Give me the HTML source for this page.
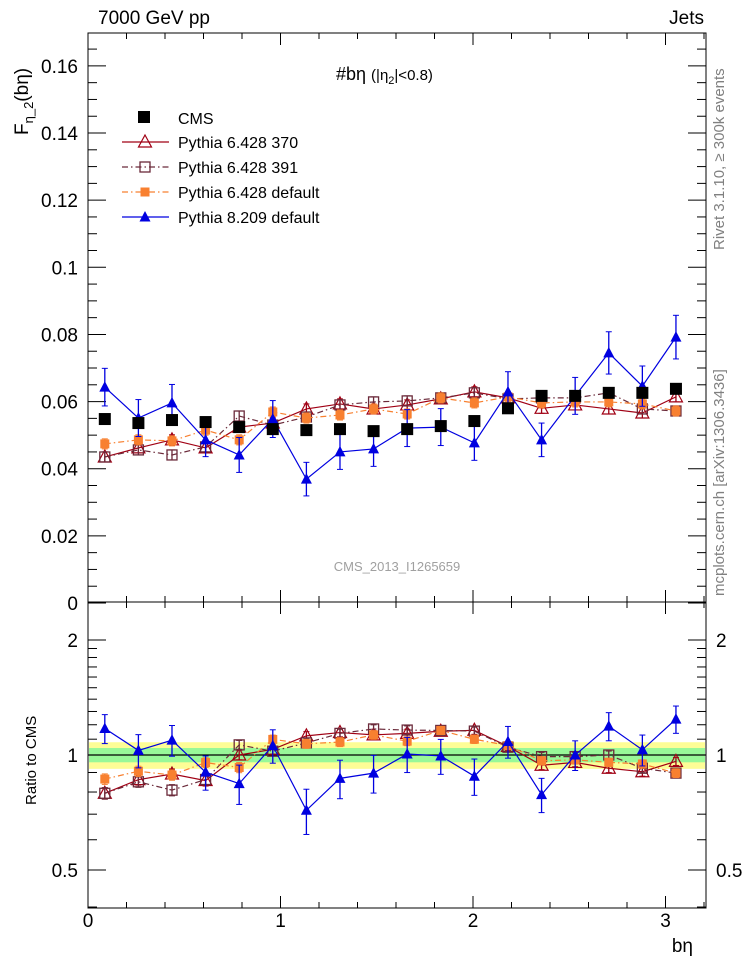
<!DOCTYPE html>
<html><head><meta charset="utf-8"><style>
html,body{margin:0;padding:0;background:#fff}
svg{display:block;font-family:"Liberation Sans",sans-serif}
</style></head><body>
<svg id="c" width="746" height="972" viewBox="0 0 746 972" xmlns="http://www.w3.org/2000/svg"></svg>
<script>
const xCenters=[0.0873,0.2618,0.4363,0.6109,0.7854,0.9599,1.1345,1.309,1.4835,1.6581,1.8326,2.0071,2.1817,2.3562,2.5307,2.7053,2.8798,3.0543];
const cmsVals=[0.0548,0.0536,0.0545,0.0539,0.0524,0.0518,0.0515,0.0518,0.0512,0.0518,0.0527,0.0542,0.058,0.0617,0.0617,0.0626,0.0626,0.0638];
const p370Vals=[0.0435,0.0462,0.0486,0.0462,0.0524,0.0536,0.0578,0.0593,0.0578,0.059,0.0608,0.0629,0.0611,0.058,0.059,0.0578,0.0566,0.0614];
const p391Vals=[0.0435,0.0456,0.0441,0.0465,0.0557,0.053,0.0554,0.059,0.0599,0.0602,0.0611,0.0626,0.0608,0.0611,0.0611,0.0626,0.0578,0.0572];
const pdefVals=[0.0474,0.0486,0.0483,0.0515,0.0486,0.0569,0.0551,0.056,0.0578,0.0563,0.0611,0.0596,0.0614,0.0596,0.0599,0.0599,0.0593,0.0572];
const p8Vals=[0.0643,0.0551,0.0596,0.0486,0.0441,0.0548,0.0369,0.045,0.0459,0.0521,0.0524,0.0477,0.0629,0.0486,0.0617,0.0745,0.0646,0.0792];
const p8Err=[0.0056,0.0055,0.0055,0.005,0.0052,0.0055,0.005,0.0052,0.0052,0.0055,0.0055,0.0052,0.006,0.005,0.0055,0.0063,0.006,0.0065];
const p6Err=[0.0015,0.0015,0.0015,0.0015,0.0015,0.0015,0.0015,0.0015,0.0015,0.0015,0.0015,0.0015,0.0015,0.0015,0.0015,0.0015,0.0015,0.0015];
const mainTicks=[0,0.02,0.04,0.06,0.08,0.1,0.12,0.14,0.16];
const mainTickLabels=["0","0.02","0.04","0.06","0.08","0.1","0.12","0.14","0.16"];
const ratioTicks=[0.5,1,2];
const ratioTickLabels=["0.5","1","2"];
const xTicks=[0,1,2,3];
const xTickLabels=["0","1","2","3"];
const bandGreen=0.043, bandYellow=0.08;

const NS="http://www.w3.org/2000/svg";
const svg=document.getElementById('c');
const L=88,R=706,T=33,MID=602,B=908;
const XMAX=(R-L)/192.5;
function X(v){return L+v/XMAX*(R-L);}
function Y(v){return 603-v*3357;}
function RY(r){return 755-115*Math.log2(r);}
function el(tag,attrs,parent){const e=document.createElementNS(NS,tag);for(const k in attrs)e.setAttribute(k,attrs[k]);(parent||svg).appendChild(e);return e;}
function txt(s,attrs,parent){const e=el('text',attrs,parent);e.textContent=s;return e;}

const clipR=el('clipPath',{id:'cr'});el('rect',{x:L,y:MID,width:R-L,height:B-MID},clipR);
const clipM=el('clipPath',{id:'cm'});el('rect',{x:L,y:T,width:R-L,height:MID-T},clipM);
let b=el('rect',{x:L+1,y:RY(1+bandYellow),width:R-L-2,height:RY(1-bandYellow)-RY(1+bandYellow),fill:'#fdfd96'});

b=el('rect',{x:L+1,y:RY(1+bandGreen),width:R-L-2,height:RY(1-bandGreen)-RY(1+bandGreen),fill:'#98f898'});

el('line',{x1:L,x2:R,y1:RY(1),y2:RY(1),stroke:'#000','stroke-width':1.2});

let f=el('rect',{x:L,y:T,width:R-L,height:MID-T,fill:'none',stroke:'#000','stroke-width':1});

f=el('rect',{x:L,y:MID,width:R-L,height:B-MID,fill:'none',stroke:'#000','stroke-width':1});


for(let v=0;v<=XMAX+1e-6;v+=0.2){
  const major=Math.abs(v-Math.round(v))<1e-6;const len=major?12:6;const x=X(v);
  [[T,1],[MID,-1],[MID,1],[B,-1]].forEach(([y,d])=>el('line',{x1:x,x2:x,y1:y,y2:y+d*len,stroke:'#000'}));
}
xTicks.forEach((v,i)=>{const t=txt(xTickLabels[i],{x:X(v),y:927,'font-size':19,'text-anchor':'middle'});
});
for(let v=0;v<=0.1701;v+=0.005){
  const major=Math.abs(v/0.02-Math.round(v/0.02))<1e-6;const len=major?18:9;const y=Y(v);
  if(y<T)continue;
  el('line',{x1:L,x2:L+len,y1:y,y2:y,stroke:'#000'});el('line',{x1:R,x2:R-len,y1:y,y2:y,stroke:'#000'});
}
mainTicks.forEach((v,i)=>{const t=txt(mainTickLabels[i],{x:78,y:Y(v)+7,'font-size':19,'text-anchor':'end'});
});
[0.4,0.5,0.6,0.7,0.8,0.9,1,1.1,1.2,1.3,1.4,1.5,1.6,1.7,1.8,1.9,2,2.5].forEach(v=>{
  const y=RY(v);if(y<MID||y>B)return;const major=(v===0.5||v===1||v===2);const len=major?18:9;
  el('line',{x1:L,x2:L+len,y1:y,y2:y,stroke:'#000'});el('line',{x1:R,x2:R-len,y1:y,y2:y,stroke:'#000'});
});
ratioTicks.forEach((v,i)=>{
  let t=txt(ratioTickLabels[i],{x:78,y:RY(v)+7,'font-size':19,'text-anchor':'end'});
  
  t=txt(ratioTickLabels[i],{x:716,y:RY(v)+7,'font-size':19,'text-anchor':'start'});
  
});

function marker(type,x,y,color,g){
  if(type==='sqf')return el('rect',{x:x-6,y:y-6,width:12,height:12,fill:color},g);
  if(type==='sqo')return el('rect',{x:x-5,y:y-5,width:10,height:10,fill:'#fff','fill-opacity':0,stroke:color,'stroke-width':1.3},g);
  if(type==='sqs')return el('rect',{x:x-4.5,y:y-4.5,width:9,height:9,fill:color},g);
  if(type==='trio')return el('path',{d:`M${x},${y-7}L${x+6.5},${y+5}L${x-6.5},${y+5}Z`,fill:'none',stroke:color,'stroke-width':1.2},g);
  if(type==='trif')return el('path',{d:`M${x},${y-6}L${x+5.5},${y+4.5}L${x-5.5},${y+4.5}Z`,fill:color},g);
}
const series=[
  {name:'pythia-6428-370',vals:p370Vals,err:p6Err,color:'#a00014',dash:'',m:'trio',label:'Pythia 6.428 370'},
  {name:'pythia-6428-391',vals:p391Vals,err:p6Err,color:'#6b2a3a',dash:'6,3,1.5,3',m:'sqo',label:'Pythia 6.428 391'},
  {name:'pythia-6428-default',vals:pdefVals,err:p6Err,color:'#f88030',dash:'6,3,1.5,3',m:'sqs',label:'Pythia 6.428 default'},
  {name:'pythia-8209-default',vals:p8Vals,err:p8Err,color:'#0000e0',dash:'',m:'trif',label:'Pythia 8.209 default'}
];
function draw(panel,yf,clip){
  series.forEach(s=>{
    const g=el('g',{'clip-path':`url(#${clip})`});
    
    
    const pts=xCenters.map((x,i)=>[X(x),yf(s.vals[i],i)]);
    el('polyline',{points:pts.map(p=>p.join(',')).join(' '),fill:'none',stroke:s.color,'stroke-width':1.2,'stroke-dasharray':s.dash},g);
    xCenters.forEach((x,i)=>{
      const cx=X(x);const y1=yf(s.vals[i]+s.err[i],i),y2=yf(s.vals[i]-s.err[i],i);
      el('line',{x1:cx,x2:cx,y1:y1,y2:y2,stroke:s.color,'stroke-width':1.3},g);
      el('line',{x1:cx-3,x2:cx+3,y1:y1,y2:y1,stroke:s.color},g);
      el('line',{x1:cx-3,x2:cx+3,y1:y2,y2:y2,stroke:s.color},g);
      const m=marker(s.m,cx,yf(s.vals[i],i),s.color,g);
      
      
    });
  });
}
draw('main',(v)=>Y(v),'cm');
const cg=el('g',{});


xCenters.forEach((x,i)=>{const m=marker('sqf',X(x),Y(cmsVals[i]),'#000',cg);

});
draw('ratio',(v,i)=>RY(v/cmsVals[i]),'cr');

let t=txt('7000 GeV pp',{x:98,y:24,'font-size':19});
t=txt('Jets',{x:704,y:24,'font-size':19,'text-anchor':'end'});
t=el('text',{x:336,y:80,'font-size':18});t.innerHTML='#bη <tspan font-size="15">(|η</tspan><tspan font-size="11" dy="4">2</tspan><tspan font-size="15" dy="-4">|&lt;0.8)</tspan>';

t=el('text',{transform:'translate(28,135) rotate(-90)','font-size':19});t.innerHTML='F<tspan font-size="13" dy="5">η_2</tspan><tspan dy="-5">(bη)</tspan>';

t=txt('Ratio to CMS',{transform:'translate(36,805) rotate(-90)','font-size':15});
t=txt('bη',{x:693,y:952,'font-size':19,'text-anchor':'end'});
t=txt('CMS_2013_I1265659',{x:397,y:571,'font-size':13,fill:'#a0a0a0','text-anchor':'middle'});
t=txt('Rivet 3.1.10, ≥ 300k events',{transform:'translate(724,250) rotate(-90)','font-size':15,fill:'#808080'});
t=txt('mcplots.cern.ch [arXiv:1306.3436]',{transform:'translate(724,596) rotate(-90)','font-size':15,fill:'#808080'});

const lg=el('g',{});
let e=el('g',{},lg);
marker('sqf',144,117,'#000',e);txt('CMS',{x:178,y:124,'font-size':16},e);
series.forEach((s,i)=>{const y=142+i*25;const g=el('g',{},lg);


el('line',{x1:122,x2:169,y1:y,y2:y,stroke:s.color,'stroke-width':1.2,'stroke-dasharray':s.dash},g);
marker(s.m,145,y,s.color,g);txt(s.label,{x:178,y:y+6,'font-size':16},g);});
</script>
</body></html>
